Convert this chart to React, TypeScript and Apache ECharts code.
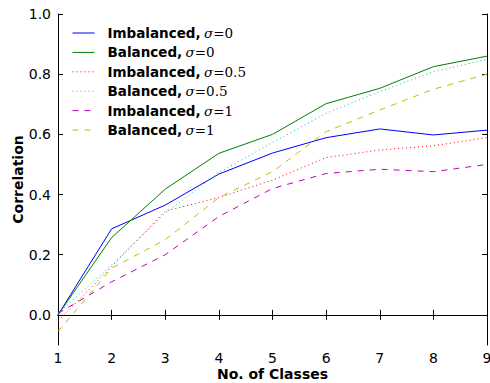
import React, { useEffect, useRef } from "react";
import * as echarts from "echarts";

const classes = [1, 2, 3, 4, 5, 6, 7, 8, 9];
const imbalanced0 = [0.0, 0.286, 0.365, 0.468, 0.538, 0.589, 0.618, 0.598, 0.614];
const balanced0 = [0.0, 0.257, 0.418, 0.537, 0.6, 0.702, 0.753, 0.825, 0.86];
const imbalanced05 = [-0.02, 0.16, 0.345, 0.39, 0.448, 0.523, 0.548, 0.562, 0.589];
const balanced05 = [0.005, 0.166, 0.338, 0.473, 0.573, 0.67, 0.742, 0.808, 0.849];
const imbalanced1 = [0.005, 0.11, 0.2, 0.327, 0.42, 0.47, 0.484, 0.476, 0.5];
const balanced1 = [-0.055, 0.155, 0.25, 0.39, 0.476, 0.609, 0.681, 0.75, 0.8];
const yTicks = [0.0, 0.2, 0.4, 0.6, 0.8, 1.0];
const xTicks = [1, 2, 3, 4, 5, 6, 7, 8, 9];

const seriesDefs = [
  { name: "Imbalanced0", kind: "Imbalanced", sigma: "0", data: imbalanced0, color: "#0000ff", dash: "solid" as any },
  { name: "Balanced0", kind: "Balanced", sigma: "0", data: balanced0, color: "#008000", dash: "solid" as any },
  { name: "Imbalanced05", kind: "Imbalanced", sigma: "0.5", data: imbalanced05, color: "#ff0000", dash: [1, 3] },
  { name: "Balanced05", kind: "Balanced", sigma: "0.5", data: balanced05, color: "#00bfbf", dash: [1, 3] },
  { name: "Imbalanced1", kind: "Imbalanced", sigma: "1", data: imbalanced1, color: "#bf00bf", dash: [6, 6] },
  { name: "Balanced1", kind: "Balanced", sigma: "1", data: balanced1, color: "#bfbf00", dash: [6, 6] },
];

export default function App() {
  const ref = useRef<HTMLDivElement>(null);
  useEffect(() => {
    if (!ref.current) return;
    const chart = echarts.init(ref.current, undefined, { renderer: "svg" });
    const axisCommon = {
      axisLine: { show: true, lineStyle: { color: "#000", width: 1 } },
      splitLine: { show: false },
    };
    const lookup: Record<string, any> = {};
    seriesDefs.forEach((s) => (lookup[s.name] = s));
    chart.setOption({
      animation: false,
      backgroundColor: "#fff",
      grid: { left: 58, right: 3, top: 14, bottom: 38, containLabel: false, outerBoundsMode: "none" },
      legend: {
        left: 67,
        top: 21,
        orient: "vertical",
        itemWidth: 22,
        itemHeight: 10,
        itemGap: 5.4,
        itemStyle: { opacity: 0 },
        data: seriesDefs.map((s) => ({
          name: s.name,
          lineStyle: { color: s.color, width: 1, type: s.dash, opacity: 1 },
        })),
        formatter: (n: string) => {
          const s = lookup[n];
          return `{b|${s.kind},} {s|σ}{n|=${s.sigma}}`;
        },
        textStyle: {
          padding: [0, 0, 0, 8],
          rich: {
            b: { fontFamily: "DejaVu Sans", fontWeight: "bold", fontSize: 13.5, color: "#000", lineHeight: 15 },
            s: { fontFamily: "DejaVu Serif", fontStyle: "italic", fontSize: 13.5, color: "#000", lineHeight: 15 },
            n: { fontFamily: "DejaVu Serif", fontSize: 13.5, color: "#000", lineHeight: 15 },
          },
        },
      },
      xAxis: [
        {
          type: "value",
          min: 1,
          max: 9,
          interval: 1,
          ...axisCommon,
          name: "No. of Classes",
          nameLocation: "middle",
          nameGap: 22,
          nameMoveOverlap: false,
          nameTextStyle: { fontFamily: "DejaVu Sans", fontWeight: "bold", fontSize: 14, color: "#000" },
          axisTick: { show: true, inside: true, length: 5, lineStyle: { color: "#000" }, customValues: xTicks },
          axisLabel: { color: "#000", fontFamily: "DejaVu Sans", fontSize: 14, margin: 6, customValues: xTicks },
        },
        {
          type: "value",
          position: "top",
          min: 1,
          max: 9,
          interval: 1,
          ...axisCommon,
          axisTick: { show: true, inside: true, length: 5, lineStyle: { color: "#000" }, customValues: xTicks },
          axisLabel: { show: false },
        },
      ],
      yAxis: [
        {
          type: "value",
          min: -0.1,
          max: 1.0,
          ...axisCommon,
          name: "Correlation",
          nameLocation: "middle",
          nameGap: 33,
          nameMoveOverlap: false,
          nameTextStyle: { fontFamily: "DejaVu Sans", fontWeight: "bold", fontSize: 14, color: "#000" },
          axisTick: { show: true, inside: true, length: 5, lineStyle: { color: "#000" }, customValues: yTicks },
          axisLabel: {
            color: "#000",
            fontFamily: "DejaVu Sans",
            fontSize: 14,
            margin: 7,
            customValues: yTicks,
            formatter: (v: number) => v.toFixed(1),
          },
        },
        {
          type: "value",
          position: "right",
          min: -0.1,
          max: 1.0,
          ...axisCommon,
          axisTick: { show: true, inside: true, length: 5, lineStyle: { color: "#000" }, customValues: yTicks },
          axisLabel: { show: false },
        },
      ],
      series: seriesDefs.map((s) => ({
        name: s.name,
        type: "line",
        symbol: "none",
        showSymbol: false,
        xAxisIndex: 0,
        yAxisIndex: 0,
        data: classes.map((c, i) => [c, s.data[i]]),
        color: s.color,
        lineStyle: { color: s.color, width: 1, type: s.dash },
        emphasis: { disabled: true },
      })),
    });
    return () => chart.dispose();
  }, []);
  return (
    <div
      ref={ref}
      style={{ position: "absolute", left: 0, top: 0, width: 490, height: 383 }}
    />
  );
}
